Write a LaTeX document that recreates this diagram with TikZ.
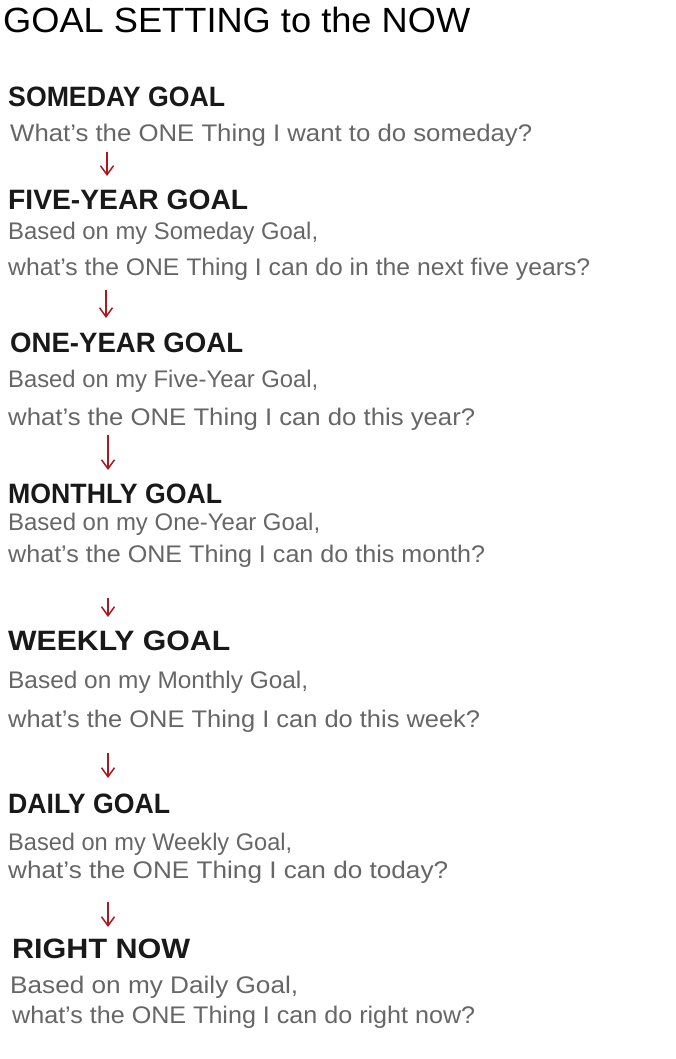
\documentclass[tikz,border=0pt]{standalone}
\usepackage{fontspec}
\setmainfont{Liberation Sans}
\usepackage{graphicx}
\usetikzlibrary{arrows.meta}
\definecolor{qgrey}{HTML}{666666}
\definecolor{arrred}{HTML}{B0161E}
\newcommand{\fitw}[2]{\resizebox{#1pt}{\height}{#2}}
\tikzset{
  title/.style={anchor=base west, inner sep=0pt, font=\fontsize{35}{40}\selectfont, text=black},
  heading/.style={anchor=base west, inner sep=0pt, font=\fontsize{28}{32}\selectfont\bfseries, text=black!90},
  question/.style={anchor=base west, inner sep=0pt, font=\fontsize{24}{28}\selectfont, text=qgrey},
  downarr/.style={draw=arrred, line width=1.5pt, -{Straight Barb[length=9pt,width=13pt,line width=1.5pt]}}
}
\begin{document}
\begin{tikzpicture}[x=1pt,y=-1pt]
\useasboundingbox (0,0) rectangle (676,1059);
\fill[white] (0,0) rectangle (676,1059);

\node[title] (t) at (3,33) {\fitw{467}{GOAL SETTING to the NOW}};

\node[heading] (h1) at (8,107) {\fitw{217}{SOMEDAY GOAL}};
\node[question] (q1) at (10,142) {\fitw{522}{What's the ONE Thing I want to do someday?}};

\node[heading] (h2) at (8,210) {\fitw{240}{FIVE-YEAR GOAL}};
\node[question] (b2) at (8,240) {\fitw{310}{Based on my Someday Goal,}};
\node[question] (q2) at (8,275) {\fitw{582}{what's the ONE Thing I can do in the next five years?}};

\node[heading] (h3) at (10,352) {\fitw{233}{ONE-YEAR GOAL}};
\node[question] (b3) at (8,387) {\fitw{310}{Based on my Five-Year Goal,}};
\node[question] (q3) at (8,425) {\fitw{467}{what's the ONE Thing I can do this year?}};

\node[heading] (h4) at (8,503) {\fitw{214}{MONTHLY GOAL}};
\node[question] (b4) at (8,530) {\fitw{312}{Based on my One-Year Goal,}};
\node[question] (q4) at (8,562) {\fitw{477}{what's the ONE Thing I can do this month?}};

\node[heading] (h5) at (8,650) {\fitw{222}{WEEKLY GOAL}};
\node[question] (b5) at (8,688) {\fitw{300}{Based on my Monthly Goal,}};
\node[question] (q5) at (8,727) {\fitw{472}{what's the ONE Thing I can do this week?}};

\node[heading] (h6) at (8,813) {\fitw{162}{DAILY GOAL}};
\node[question] (b6) at (8,850) {\fitw{284}{Based on my Weekly Goal,}};
\node[question] (q6) at (8,878) {\fitw{440}{what's the ONE Thing I can do today?}};

\node[heading] (h7) at (12,958) {\fitw{178}{RIGHT NOW}};
\node[question] (b7) at (10,993) {\fitw{288}{Based on my Daily Goal,}};
\node[question] (q7) at (12,1023) {\fitw{463}{what's the ONE Thing I can do right now?}};

\coordinate (a1s) at (107,152); \coordinate (a1e) at (107,176);
\coordinate (a2s) at (106,290); \coordinate (a2e) at (106,318);
\coordinate (a3s) at (108,435); \coordinate (a3e) at (108,470);
\coordinate (a4s) at (108,598); \coordinate (a4e) at (108,617);
\coordinate (a5s) at (108,753); \coordinate (a5e) at (108,778);
\coordinate (a6s) at (108,902); \coordinate (a6e) at (108,927);

\draw[downarr] (a1s) -- (a1e);
\draw[downarr] (a2s) -- (a2e);
\draw[downarr] (a3s) -- (a3e);
\draw[downarr] (a4s) -- (a4e);
\draw[downarr] (a5s) -- (a5e);
\draw[downarr] (a6s) -- (a6e);
\end{tikzpicture}
\end{document}
